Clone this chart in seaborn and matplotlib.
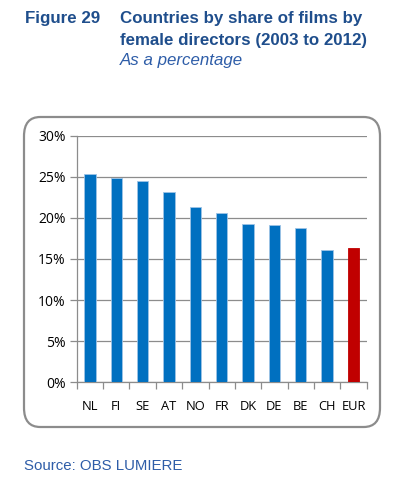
import matplotlib
matplotlib.use("Agg")
import matplotlib.pyplot as plt
import seaborn as sns
import pandas as pd
from matplotlib.patches import FancyBboxPatch
from matplotlib.ticker import FuncFormatter

countries = ["NL", "FI", "SE", "AT", "NO", "FR", "DK", "DE", "BE", "CH", "EUR"]
shares = [25.4, 24.9, 24.5, 23.2, 21.3, 20.6, 19.3, 19.1, 18.8, 16.1, 16.3]
yticks = [0, 5, 10, 15, 20, 25, 30]

sns.set_theme(style="white")
plt.rcParams["font.family"] = ["Liberation Sans", "DejaVu Sans"]

df = pd.DataFrame({"country": countries, "share": shares})
palette = ["#0070C0"] * 10 + ["#C00000"]

W, H = 406, 480
fig = plt.figure(figsize=(W / 100, H / 100), dpi=100)

# rounded frame around chart
box = FancyBboxPatch((24 / W, 1 - 427 / H), (380 - 24) / W, (427 - 117) / H,
                     boxstyle="round,pad=0,rounding_size=0.04",
                     transform=fig.transFigure, facecolor="white",
                     edgecolor="#8C8C8C", linewidth=1.6, zorder=-5)
fig.patches.append(box)

ax = fig.add_axes([76.7 / W, 1 - 382.3 / H, (366.7 - 76.7) / W, (382.3 - 135.7) / H])
ax.set_zorder(2)
ax.set_facecolor("none")
sns.barplot(data=df, x="country", y="share", hue="country", palette=palette,
            legend=False, width=0.43, ax=ax, zorder=3, saturation=1,
            edgecolor="#9DC3E6", linewidth=0.6)
ax.patches[-1].set_edgecolor("#C00000")

ax.set_ylim(0, 30)
ax.set_xlim(-0.5, len(countries) - 0.5)
ax.set_yticks(yticks)
ax.yaxis.set_major_formatter(FuncFormatter(lambda v, p: f"{int(v)}%"))
ax.yaxis.grid(True, color="#8C8C8C", linewidth=0.9, zorder=0)
ax.set_axisbelow(True)
ax.set_xlabel("")
ax.set_ylabel("")
for s in ["top", "right"]:
    ax.spines[s].set_visible(False)
for s in ["left", "bottom"]:
    ax.spines[s].set_color("#8C8C8C")
    ax.spines[s].set_linewidth(0.9)
ax.tick_params(axis="y", left=True, length=5, width=0.9, color="#8C8C8C",
               labelsize=10, labelcolor="#000000", pad=3)
ax.tick_params(axis="x", bottom=False, labelsize=9.3, labelcolor="#000000", pad=7)
# minor ticks between categories on x axis
ax.set_xticks([i - 0.5 for i in range(len(countries) + 1)], minor=True)
ax.tick_params(axis="x", which="minor", bottom=True, length=5, width=0.9,
               color="#8C8C8C")
for lab in ax.get_xticklabels() + ax.get_yticklabels():
    lab.set_fontfamily(["Open Sans", "DejaVu Sans"])

title_color = "#1F4E8C"
fig.text(25 / W, 1 - 19 / H, "Figure 29", fontsize=12.2, fontweight="bold",
         color=title_color, va="center", ha="left")
fig.text(120 / W, 1 - 19 / H, "Countries by share of films by", fontsize=12.2,
         fontweight="bold", color=title_color, va="center", ha="left")
fig.text(120 / W, 1 - 40 / H, "female directors (2003 to 2012)", fontsize=12.2,
         fontweight="bold", color=title_color, va="center", ha="left")
fig.text(120 / W, 1 - 61 / H, "As a percentage", fontsize=12.2, style="italic",
         color="#2E5DA8", va="center", ha="left")
fig.text(24 / W, 1 - 466 / H, "Source: OBS LUMIERE", fontsize=10.8,
         color="#2E5DA8", va="center", ha="left")

fig.savefig("out.png", dpi=100)
